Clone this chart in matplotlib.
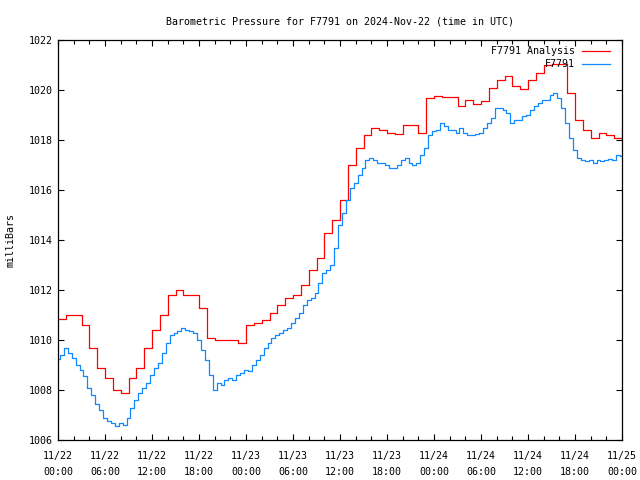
import numpy as np
import matplotlib
matplotlib.use("Agg")
import matplotlib.pyplot as plt

# hours since 2024-11-22 00:00 UTC
analysis_hours = np.arange(0, 73)
analysis = [
    1010.85, 1011.0, 1011.0, 1010.6, 1009.7, 1008.9, 1008.5, 1008.0, 1007.9, 1008.5,
    1008.9, 1009.7, 1010.4, 1011.0, 1011.8, 1012.0, 1011.8, 1011.8, 1011.3, 1010.1,
    1010.0, 1010.0, 1010.0, 1009.9, 1010.6, 1010.7, 1010.8, 1011.1, 1011.4, 1011.7,
    1011.8, 1012.2, 1012.8, 1013.3, 1014.3, 1014.8, 1015.6, 1017.0, 1017.7, 1018.2,
    1018.5, 1018.4, 1018.3, 1018.25, 1018.6, 1018.6, 1018.3, 1019.7, 1019.75, 1019.73,
    1019.73, 1019.35, 1019.6, 1019.45, 1019.55, 1020.1, 1020.4, 1020.57, 1020.15, 1020.05,
    1020.4, 1020.67, 1021.0, 1021.05, 1021.05, 1019.9, 1018.8, 1018.4, 1018.07, 1018.3,
    1018.2, 1018.1, 1018.5,
]

station_hours = np.arange(0, 145) * 0.5
station = [
    1009.25, 1009.4, 1009.7, 1009.5, 1009.3, 1009.0, 1008.8, 1008.55, 1008.1, 1007.8,
    1007.45, 1007.2, 1006.9, 1006.75, 1006.7, 1006.55, 1006.7, 1006.6, 1006.9, 1007.3,
    1007.6, 1007.9, 1008.1, 1008.3, 1008.6, 1008.9, 1009.1, 1009.5, 1009.9, 1010.2,
    1010.3, 1010.35, 1010.5, 1010.4, 1010.35, 1010.3, 1010.0, 1009.6, 1009.2, 1008.6,
    1008.0, 1008.3, 1008.2, 1008.4, 1008.5, 1008.4, 1008.6, 1008.7, 1008.8, 1008.75,
    1009.0, 1009.2, 1009.4, 1009.7, 1009.9, 1010.1, 1010.2, 1010.3, 1010.4, 1010.5,
    1010.7, 1010.9, 1011.1, 1011.4, 1011.6, 1011.7, 1011.9, 1012.3, 1012.7, 1012.8,
    1013.0, 1013.7, 1014.6, 1015.1, 1015.6, 1016.1, 1016.3, 1016.6, 1016.9, 1017.2,
    1017.3, 1017.2, 1017.1, 1017.1, 1017.0, 1016.9, 1016.9, 1017.0, 1017.2, 1017.3,
    1017.1, 1017.0, 1017.1, 1017.4, 1017.7, 1018.2, 1018.35, 1018.4, 1018.7, 1018.55,
    1018.4, 1018.4, 1018.3, 1018.5, 1018.3, 1018.2, 1018.2, 1018.25, 1018.3, 1018.5,
    1018.7, 1018.9, 1019.3, 1019.3, 1019.2, 1019.1, 1018.7, 1018.8, 1018.8, 1018.95,
    1019.0, 1019.2, 1019.35, 1019.5, 1019.6, 1019.6, 1019.8, 1019.9, 1019.7, 1019.3,
    1018.7, 1018.1, 1017.6, 1017.3, 1017.2, 1017.15, 1017.2, 1017.1, 1017.2, 1017.15,
    1017.2, 1017.25, 1017.2, 1017.4, 1017.35,
]

tick_hours = np.arange(0, 73, 6)
tick_labels = ["11/22\n00:00", "11/22\n06:00", "11/22\n12:00", "11/22\n18:00",
               "11/23\n00:00", "11/23\n06:00", "11/23\n12:00", "11/23\n18:00",
               "11/24\n00:00", "11/24\n06:00", "11/24\n12:00", "11/24\n18:00",
               "11/25\n00:00"]

plt.rcParams['font.family'] = ['DejaVu Sans Mono']
fs = 7.2

fig = plt.figure(figsize=(6.4, 4.8), dpi=100)
ax = fig.add_axes([58 / 640, 40 / 480, 564 / 640, 400 / 480])

ax.plot(analysis_hours, analysis, color='#ff0000', linewidth=0.9,
        drawstyle='steps-post', label='F7791 Analysis')
ax.plot(station_hours, station, color='#1188ff', linewidth=0.9,
        drawstyle='steps-mid', label='F7791')

ax.set_xlim(0, 72)
ax.set_ylim(1006, 1022)
ax.set_xticks(tick_hours)
ax.set_xticklabels(tick_labels, fontsize=fs, linespacing=1.75)
ax.set_xticks(np.arange(0, 73, 2), minor=True)
ax.set_yticks(np.arange(1006, 1023, 2))
ax.tick_params(axis='y', labelsize=fs)
ax.tick_params(which='both', direction='in', top=True, right=True, width=0.8)
ax.tick_params(which='major', length=4)
ax.tick_params(which='minor', length=3)
ax.tick_params(axis='x', pad=8)
for s in ax.spines.values():
    s.set_linewidth(0.9)

ax.set_ylabel('milliBars', fontsize=fs, labelpad=10)
ax.set_title('Barometric Pressure for F7791 on 2024-Nov-22 (time in UTC)',
             fontsize=fs, pad=11)

ax.legend(loc='upper right', bbox_to_anchor=(0.979, 0.984), frameon=False,
          markerfirst=False, fontsize=fs, handlelength=2.8, handletextpad=0.7,
          labelspacing=0.3, borderpad=0, borderaxespad=0)

fig.savefig('out.png', dpi=100)
